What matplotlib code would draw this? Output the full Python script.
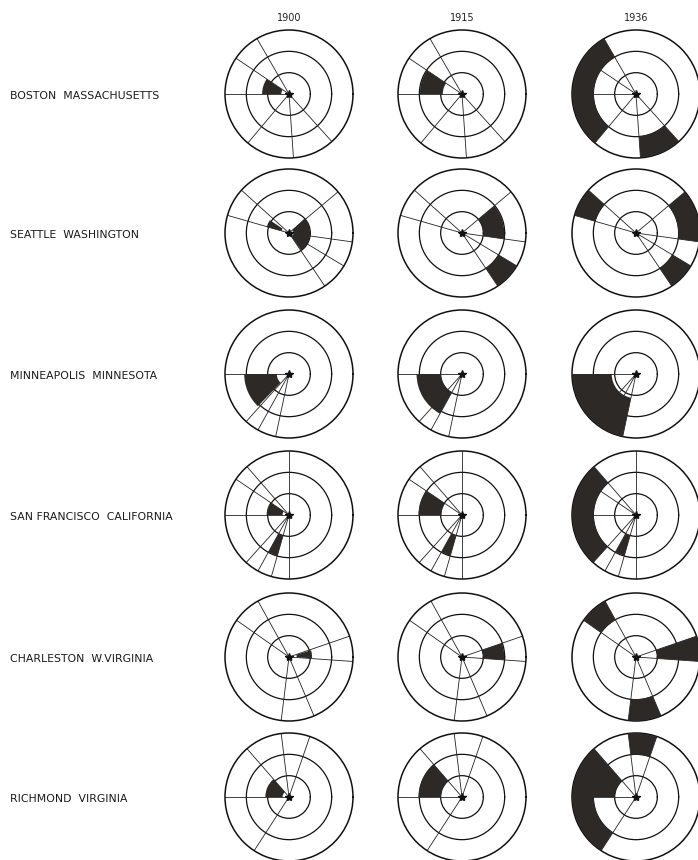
import numpy as np
import matplotlib
matplotlib.use("Agg")
import matplotlib.pyplot as plt

# Hoyt sector diagrams: location of high rent areas, 1900 / 1915 / 1936

years = ["1900", "1915", "1936"]
cities = ["BOSTON  MASSACHUSETTS", "SEATTLE  WASHINGTON",
          "MINNEAPOLIS  MINNESOTA", "SAN FRANCISCO  CALIFORNIA",
          "CHARLESTON  W.VIRGINIA", "RICHMOND  VIRGINIA"]

# sector boundary lines for each city (degrees, 0 = east, counter-clockwise)
boston_lines = [120, 146, 180, 230, 274, 312]
seattle_lines = [40, 138, 164, 304, 329, 352]
minneapolis_lines = [180, 228, 241, 258]
sanfrancisco_lines = [90, 131, 146, 180, 228, 241, 254, 270]
charleston_lines = [19, 119, 145, 263, 293, 356]
richmond_lines = [71, 97, 131, 180, 237]

# shaded high rent areas: (angle from, angle to, radius from, radius to)
boston_areas = [
    [(146, 180, 0.12, 0.42)],
    [(146, 180, 0.30, 0.66)],
    [(120, 230, 0.66, 1.0), (274, 312, 0.66, 1.0)],
]
seattle_areas = [
    [(146, 165, 0.12, 0.36), (-55, 43, 0.07, 0.33)],
    [(-8, 40, 0.33, 0.66), (304, 329, 0.66, 1.0)],
    [(138, 164, 0.66, 1.0), (-8, 40, 0.66, 1.0), (304, 329, 0.66, 1.0)],
]
minneapolis_areas = [
    [(180, 226, 0.19, 0.70)],
    [(180, 241, 0.33, 0.71)],
    [(180, 258, 0.38, 1.0)],
]
sanfrancisco_areas = [
    [(146, 180, 0.10, 0.35), (241, 254, 0.33, 0.66)],
    [(146, 180, 0.32, 0.68), (241, 254, 0.33, 0.66)],
    [(131, 228, 0.66, 1.0), (241, 254, 0.33, 0.66)],
]
charleston_areas = [
    [(-3, 17, 0.12, 0.36)],
    [(-4, 19, 0.33, 0.66)],
    [(119, 145, 0.66, 1.0), (-4, 19, 0.33, 1.0), (263, 293, 0.66, 1.0)],
]
richmond_areas = [
    [(131, 180, 0.10, 0.37)],
    [(131, 180, 0.33, 0.68)],
    [(131, 180, 0.33, 1.0), (180, 237, 0.66, 1.0), (71, 97, 0.66, 1.0)],
]

all_lines = [boston_lines, seattle_lines, minneapolis_lines,
             sanfrancisco_lines, charleston_lines, richmond_lines]
all_areas = [boston_areas, seattle_areas, minneapolis_areas,
             sanfrancisco_areas, charleston_areas, richmond_areas]

# page layout in pixels
W, H = 698, 860
col_x = [289, 462, 636]
row_y = [94, 233, 374, 515, 657, 797]
R = 64
shade = "#2c2927"

fig = plt.figure(figsize=(W / 100, H / 100), dpi=100)
fig.patch.set_facecolor("white")

for j, yr in enumerate(years):
    fig.text(col_x[j] / W, 1 - 18 / H, yr, ha="center", va="center",
             fontsize=7, color="#222222")

for i, city in enumerate(cities):
    fig.text(10 / W, 1 - (row_y[i] + 2) / H, city, ha="left", va="center",
             fontsize=7.8, color="#1a1a1a")

    for j in range(len(years)):
        cx, cy = col_x[j], row_y[i]
        ax = fig.add_axes([(cx - R) / W, 1 - (cy + R) / H, 2 * R / W, 2 * R / H],
                          projection="polar")
        ax.set_ylim(0, 1)
        ax.set_xticks([])
        ax.set_rgrids([1 / 3, 2 / 3], labels=["", ""])
        ax.yaxis.grid(True, color="#111111", lw=0.9)
        ax.set_axisbelow(True)
        ax.spines["polar"].set_linewidth(1.1)
        ax.spines["polar"].set_color("#111111")
        ax.set_facecolor("white")

        # sector lines
        for a in all_lines[i]:
            t = np.deg2rad(a)
            ax.plot([t, t], [0, 1], color="#222222", lw=0.6, zorder=2)

        # high rent areas
        for a1, a2, r1, r2 in all_areas[i][j]:
            ax.bar(np.deg2rad((a1 + a2) / 2), r2 - r1,
                   width=np.deg2rad(a2 - a1), bottom=r1,
                   color=shade, edgecolor="none", zorder=3)

        # city centre
        ax.plot(0, 0, marker="*", ms=6, color="#111111", zorder=5,
                clip_on=False)

fig.savefig("out.png", dpi=100, facecolor="white")
